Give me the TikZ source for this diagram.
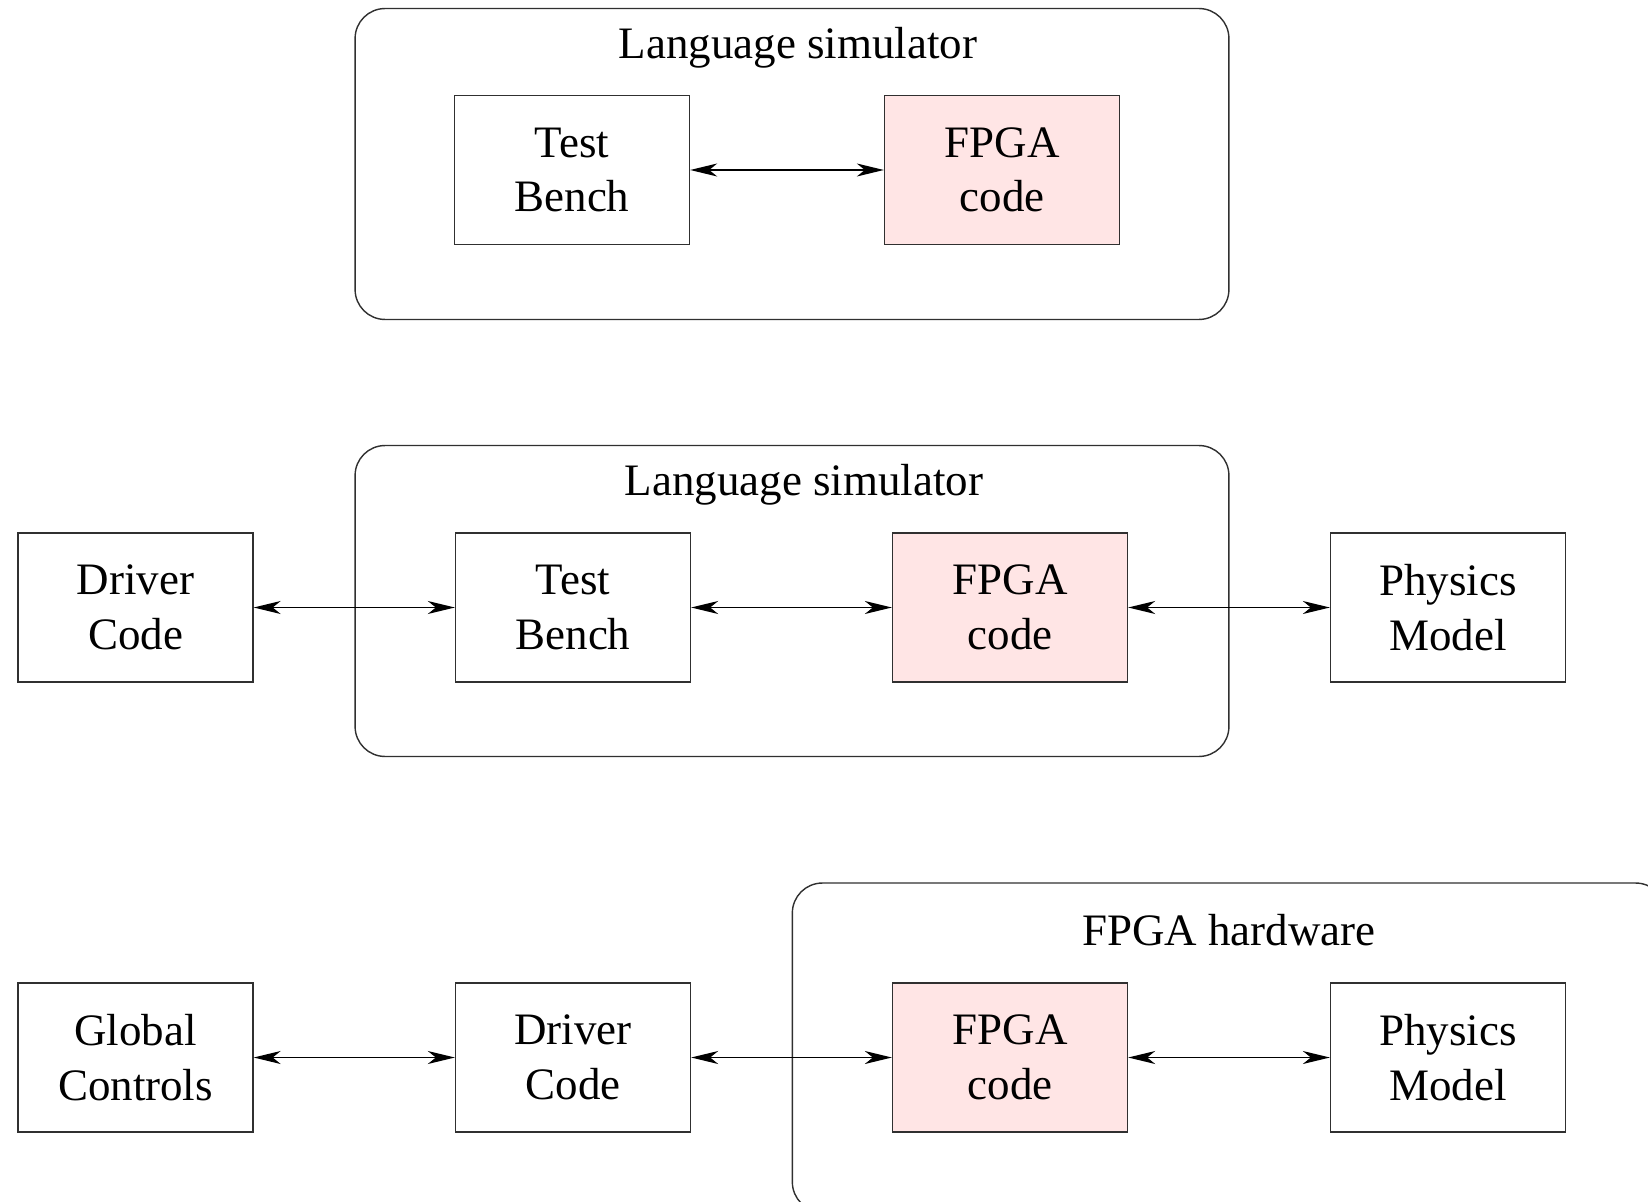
\documentclass[tikz,border=0pt]{standalone}
\usepackage{fontspec}
\setmainfont{Liberation Serif}
\usetikzlibrary{arrows.meta, positioning}
\definecolor{cpink}{HTML}{FFE5E5}
\definecolor{cline}{HTML}{303030}
\tikzset{
  every picture/.style={line width=0.8pt},
  box/.style={draw=cline, fill=#1, align=center, minimum width=4.7cm, minimum height=2.98cm,
    inner sep=0pt, font=\fontsize{25.6}{31}\selectfont},
  box/.default=white,
  frame/.style={draw=cline, rounded corners=0.6cm, inner sep=0pt},
  title/.style={font=\fontsize{25.6}{31}\selectfont},
  arrow/.style={{Stealth[length=5.4mm, width=2.6mm, inset=1.6mm]}-{Stealth[length=5.4mm, width=2.6mm, inset=1.6mm]}, draw=black, line width=0.8pt},
}

\begin{document}
\begin{tikzpicture}[x=0.02cm, y=-0.02cm]
  \useasboundingbox (0,0) rectangle (1648,1202);
  % simulation of the FPGA code alone
  \node[frame, minimum width=17.48cm, minimum height=6.22cm] (sim1) at (792,164) {};
  \node[title] (ls1) at (798,48) {Language simulator};
  \node[box] (tb1) at (572,170) {Test\\Bench};
  \node[box=cpink] (fpga1) at (1002,170) {FPGA\\code};
  \draw[arrow] (tb1) -- (fpga1);
  % simulation with driver code and physics model
  \node[frame, minimum width=17.48cm, minimum height=6.22cm] (sim2) at (792,601) {};
  \node[title] (ls2) at (804,485) {Language simulator};
  \node[box] (drv2) at (135.5,607.5) {Driver\\Code};
  \node[box] (tb2) at (573,607.5) {Test\\Bench};
  \node[box=cpink] (fpga2) at (1010,607.5) {FPGA\\code};
  \node[box] (phys2) at (1448,607.5) {Physics\\Model};
  \draw[arrow] (drv2) -- (tb2);
  \draw[arrow] (tb2) -- (fpga2);
  \draw[arrow] (fpga2) -- (phys2);
  % running on the hardware
  \node[frame, minimum width=17.47cm, minimum height=6.58cm] (hw3) at (1229,1047.5) {};
  \node[title] (fh3) at (1229,930) {FPGA hardware};
  \node[box] (glob3) at (135.5,1057.5) {Global\\Controls};
  \node[box] (drv3) at (573,1057.5) {Driver\\Code};
  \node[box=cpink] (fpga3) at (1010,1057.5) {FPGA\\code};
  \node[box] (phys3) at (1448,1057.5) {Physics\\Model};
  \draw[arrow] (glob3) -- (drv3);
  \draw[arrow] (drv3) -- (fpga3);
  \draw[arrow] (fpga3) -- (phys3);
\end{tikzpicture}
\end{document}
